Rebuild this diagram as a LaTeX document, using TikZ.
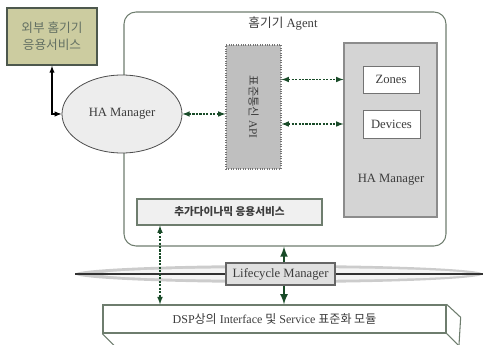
\documentclass[tikz,border=0pt]{standalone}
\usepackage{fontspec}
\setmainfont{Liberation Serif}
\newfontfamily\kr{Noto Sans CJK KR}
\usetikzlibrary{arrows}
\usetikzlibrary{positioning}
\usetikzlibrary{shapes.geometric}

\definecolor{agentline}{RGB}{110,125,110}
\definecolor{arrowgreen}{RGB}{25,75,40}
\definecolor{olivebox}{RGB}{204,204,160}
\definecolor{textgray}{RGB}{60,60,60}

\tikzset{
    box/.style={draw=agentline, line width=0.8pt, text=textgray, inner sep=0pt},
    dasharrow/.style={<->, arrowgreen, line width=0.9pt, dash pattern=on 1.6pt off 1pt},
    lifearrow/.style={->, arrowgreen, line width=1.6pt}
}

\begin{document}
\begin{tikzpicture}[>=latex, x=0.75pt, y=-0.75pt, font=\fontsize{9.5}{11}\selectfont]
    \useasboundingbox (0,0) rectangle (483,345);

    % agent frame
    \node (agent) [box, rounded corners=9pt, minimum width=241.5pt, minimum height=175.5pt] at (285,129) {};
    \node (agentlabel) [text=textgray] at (283,24) {{\kr 홈기기} Agent};

    % left side
    \node (ext) [box, fill=olivebox, draw=agentline!70!black, line width=1.2pt, minimum width=67.5pt, minimum height=42.75pt, align=center, text=agentline!90!black, font=\kr\fontsize{9.5}{13}\selectfont] at (52,36.5) {외부 홈기기\\응용서비스};
    \node (ham) [ellipse, draw=black!70, line width=0.6pt, fill=black!7, minimum width=90pt, minimum height=58.5pt, text=textgray] at (122,114) {HA Manager};

    % api and manager box
    \node (api) [draw=black!55, densely dotted, line width=0.8pt, fill=black!25, minimum width=41.25pt, minimum height=93pt] at (253.5,107) {};
    \node (apitext) [rotate=-90, text=textgray, font=\fontsize{8.5}{10}\selectfont] at (api.center) {{\kr 표준통신} API};
    \node (hab) [draw=black!45, line width=0.8pt, fill=black!17, minimum width=69.75pt, minimum height=130.5pt] at (390.5,130) {};
    \node (zones) [draw=black!55, line width=0.6pt, fill=white, text=textgray, minimum width=42pt, minimum height=20.25pt] at (391,79.5) {Zones};
    \node (devices) [draw=black!55, line width=0.6pt, fill=white, text=textgray, minimum width=42.75pt, minimum height=21pt] at (391.5,124) {Devices};
    \node (habtext) [text=textgray] at (391,180) {HA Manager};

    \node (dyn) [box, fill=black!6, minimum width=138.75pt, minimum height=19.5pt, font=\kr\bfseries\fontsize{8}{10}\selectfont] at (229.5,212) {추가다이나믹 응용서비스};

    % ring round the lifecycle manager
    \fill[black!20] (279,274) ellipse [x radius=204, y radius=9];
    \fill[black!4] (285,274) ellipse [x radius=185, y radius=6];
    \draw[black!80, line width=0.8pt] (75,274) -- (483,274);
    \node (life) [draw=black!60, line width=0.8pt, fill=black!12, text=textgray, minimum width=81.75pt, minimum height=16.5pt] at (280.5,274) {Lifecycle Manager};

    % bottom module
    \node (dsp) [box, line width=1pt, fill=white, minimum width=257.25pt, minimum height=21pt, font=\fontsize{9}{10}\selectfont] at (274.5,319) {DSP{\kr 상의} Interface {\kr 및} Service {\kr 표준화 모듈}};
    \draw[agentline, line width=0.8pt] (dsp.north east) -- ++(14,13) -- (459,345);
    \draw[agentline, line width=0.8pt] (dsp.south east) -- ++(12,12);
    \draw[agentline, line width=0.8pt] (dsp.south west) -- ++(12,12);

    % connectors
    \coordinate (dynx) at (160,0);
    \coordinate (lifex) at (284,0);
    \draw[<->, black, line width=0.8pt] (ext.south) |- (ham.west);
    \draw[dasharrow] (ham.east) -- (ham.east -| api.west);
    \draw[dasharrow] (api.east |- zones) -- (hab.west |- zones);
    \draw[dasharrow] (api.east |- devices) -- (hab.west |- devices);
    \draw[dasharrow] (dyn.south -| dynx) -- (dsp.north -| dynx);
    \draw[lifearrow] (life.north -| lifex) -- (agent.south -| lifex);
    \draw[lifearrow] (life.south -| lifex) -- (dsp.north -| lifex);
\end{tikzpicture}
\end{document}
